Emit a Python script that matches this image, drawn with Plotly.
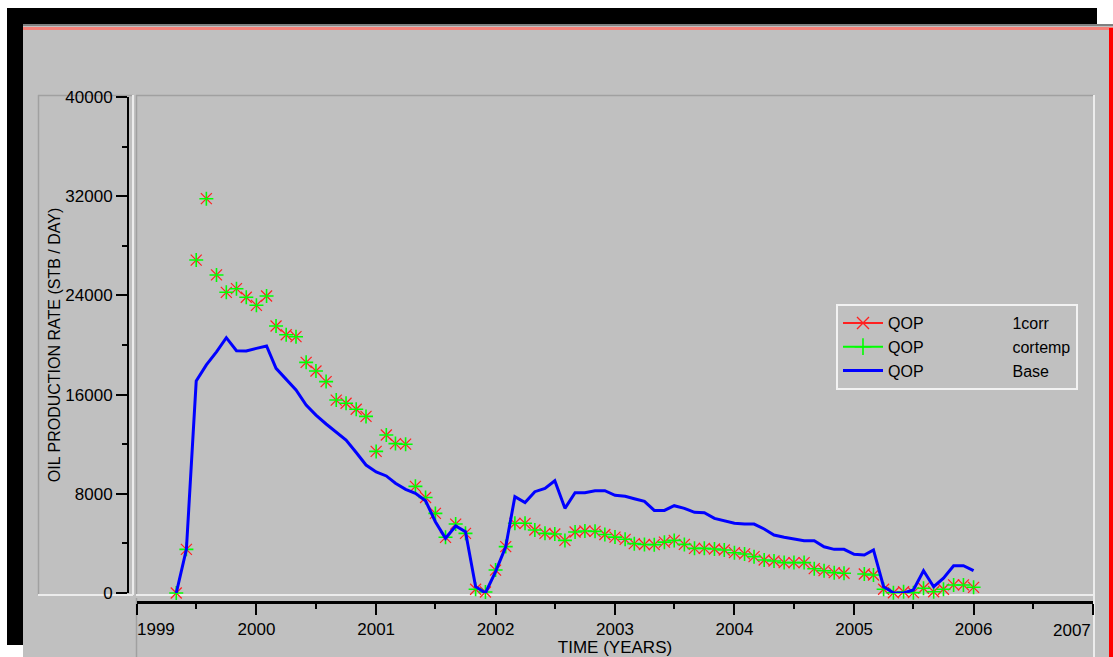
import plotly.graph_objects as go

# ---------------- data ----------------
months = [
    "1999-05-01", "1999-06-01", "1999-07-01", "1999-08-01", "1999-09-01", "1999-10-01", "1999-11-01", "1999-12-01",
    "2000-01-01", "2000-02-01", "2000-03-01", "2000-04-01", "2000-05-01", "2000-06-01",
    "2000-07-01", "2000-08-01", "2000-09-01", "2000-10-01", "2000-11-01", "2000-12-01",
    "2001-01-01", "2001-02-01", "2001-03-01", "2001-04-01", "2001-05-01", "2001-06-01",
    "2001-07-01", "2001-08-01", "2001-09-01", "2001-10-01", "2001-11-01", "2001-12-01",
    "2002-01-01", "2002-02-01", "2002-03-01", "2002-04-01", "2002-05-01", "2002-06-01",
    "2002-07-01", "2002-08-01", "2002-09-01", "2002-10-01", "2002-11-01", "2002-12-01",
    "2003-01-01", "2003-02-01", "2003-03-01", "2003-04-01", "2003-05-01", "2003-06-01",
    "2003-07-01", "2003-08-01", "2003-09-01", "2003-10-01", "2003-11-01", "2003-12-01",
    "2004-01-01", "2004-02-01", "2004-03-01", "2004-04-01", "2004-05-01", "2004-06-01",
    "2004-07-01", "2004-08-01", "2004-09-01", "2004-10-01", "2004-11-01", "2004-12-01",
    "2005-01-01", "2005-02-01", "2005-03-01", "2005-04-01", "2005-05-01", "2005-06-01",
    "2005-07-01", "2005-08-01", "2005-09-01", "2005-10-01", "2005-11-01", "2005-12-01",
    "2006-01-01",
]

qop_1corr = [
    0, 3520, 26850, 31800, 25650, 24250, 24540, 23850,
    23200, 23950, 21530, 20830, 20670, 18600,
    17900, 17050, 15560, 15300, 14820, 14240,
    11420, 12740, 12050, 12000, 8600, 7700,
    6420, 4490, 5560, 4810, 300, 80,
    1850, 3740, 5620, 5620, 5080, 4810,
    4760, 4240, 4920, 5000, 4970, 4720,
    4510, 4330, 3980, 3910, 3900, 4100,
    4240, 3920, 3600, 3600, 3550, 3470,
    3250, 3150, 2930, 2660, 2580, 2450,
    2450, 2450, 1960, 1800, 1640, 1590,
    None, 1530, 1450, 300, 20, 100,
    30, 380, 100, 300, 650, 650,
    460,
]

qop_cortemp = [
    0, 3520, 26850, 31800, 25650, 24250, 24540, 23850,
    23200, 23950, 21530, 20830, 20670, 18600,
    17900, 17050, 15560, 15300, 14820, 14240,
    11420, 12740, 12050, 12000, 8600, 7700,
    6420, 4490, 5560, 4810, 300, 80,
    1850, 3740, 5620, 5620, 5080, 4810,
    4760, 4240, 4920, 5000, 4970, 4720,
    4510, 4330, 3980, 3910, 3900, 4100,
    4240, 3920, 3600, 3600, 3550, 3470,
    3250, 3150, 2930, 2660, 2580, 2450,
    2450, 2450, 1960, 1800, 1640, 1590,
    None, 1530, 1450, 300, 20, 100,
    30, 380, 100, 300, 650, 650,
    460,
]

qop_base = [
    0, 3520, 17100, 18400, 19450, 20590, 19540, 19520,
    19730, 19920, 18120, 17250, 16370, 15160,
    14350, 13630, 12940, 12340, 11330, 10320,
    9760, 9440, 8850, 8360, 8040, 7440,
    5750, 4410, 5400, 4940, 510, 0,
    1720, 3730, 7770, 7300, 8170, 8440,
    9050, 6830, 8090, 8090, 8240, 8250,
    7880, 7800, 7600, 7390, 6660, 6660,
    7040, 6830, 6510, 6480, 6020, 5810,
    5620, 5560, 5560, 5160, 4680, 4490,
    4350, 4220, 4220, 3730, 3520, 3520,
    3120, 3060, 3470, 510, 20, 0,
    240, 1800, 510, 1190, 2200, 2200,
    1800,
]

series_names = ["1corr", "cortemp", "Base"]
var_name = "QOP"
y_ticks = [0, 8000, 16000, 24000, 32000, 40000]
x_tick_dates = ["1999-01-01", "2000-01-01", "2001-01-01", "2002-01-01", "2003-01-01",
                "2004-01-01", "2005-01-01", "2006-01-01", "2007-01-01"]
x_tick_labels = ["1999", "2000", "2001", "2002", "2003", "2004", "2005", "2006", "2007"]
x_range = ["1999-01-01", "2007-01-01"]
y_title = "OIL PRODUCTION RATE (STB / DAY)"
x_title = "TIME (YEARS)"

# ---------------- layout helpers ----------------
W, H = 1113, 657
FONT = "Liberation Sans, Arial, sans-serif"
NB = "\u00a0"


def px(x):
    return x / W


def py(y):
    return 1 - y / H


def label(name):
    return var_name + NB * 20 + name


# first label sits right of its tick, last label left of its tick (as in the original)
x_ticktext = list(x_tick_labels)
x_ticktext[0] = NB * 8 + x_ticktext[0]
x_ticktext[-1] = ""

RED = "#ff2020"
GREEN = "#00ff00"
BLUE = "#0000ff"

fig = go.Figure()

# data traces (markers only for the two correction runs)
fig.add_trace(go.Scatter(
    x=months, y=qop_1corr, mode="markers", showlegend=False, cliponaxis=False,
    marker=dict(symbol="x-thin", size=11, color=RED, line=dict(color=RED, width=1.2)),
    hoverinfo="x+y", name=series_names[0]))
fig.add_trace(go.Scatter(
    x=months, y=qop_cortemp, mode="markers", showlegend=False, cliponaxis=False,
    marker=dict(symbol="cross-thin", size=10, color=GREEN, line=dict(color=GREEN, width=1.6)),
    hoverinfo="x+y", name=series_names[1]))
fig.add_trace(go.Scatter(
    x=months, y=qop_base, mode="lines", cliponaxis=False,
    line=dict(color=BLUE, width=3), name=label(series_names[2]), legendrank=3))

# legend entries (line + marker samples)
fig.add_trace(go.Scatter(
    x=[None], y=[None], mode="lines+markers", name=label(series_names[0]), legendrank=1,
    line=dict(color=RED, width=2),
    marker=dict(symbol="x-thin", size=12, color=RED, line=dict(color=RED, width=1.4))))
fig.add_trace(go.Scatter(
    x=[None], y=[None], mode="lines+markers", name=label(series_names[1]), legendrank=2,
    line=dict(color=GREEN, width=2),
    marker=dict(symbol="cross-thin", size=12, color=GREEN, line=dict(color=GREEN, width=1.6))))

shapes = []


def rect(x0, y0, x1, y1, fill, line_color=None, lw=0):
    shapes.append(dict(type="rect", xref="paper", yref="paper", layer="below",
                       x0=px(x0), x1=px(x1), y0=py(y0), y1=py(y1),
                       fillcolor=fill, line=dict(width=lw, color=line_color or fill)))


def hline(x0, x1, y, color, w=1):
    shapes.append(dict(type="line", xref="paper", yref="paper", layer="below",
                       x0=px(x0), x1=px(x1), y0=py(y), y1=py(y), line=dict(color=color, width=w)))


def vline(x, y0, y1, color, w=1):
    shapes.append(dict(type="line", xref="paper", yref="paper", layer="below",
                       x0=px(x), x1=px(x), y0=py(y0), y1=py(y1), line=dict(color=color, width=w)))


# window frame
rect(7, 8, 1097, 24, "black")
rect(7, 8, 23, 645, "black")
rect(23, 24, 1113, 657, "#c0c0c0")
hline(23, 1113, 25, "#808080", 2)
rect(23, 27, 1113, 30, "#f48078")
rect(1109, 28, 1113, 657, "#ff0000")

# y-axis panel
hline(38, 133, 95.5, "#a0a0a0", 1.5)
vline(38.5, 95, 595, "#a0a0a0", 1.5)
hline(38, 133, 595, "#ececec", 2)
vline(133, 95, 595, "#ececec", 2)
# data panel
hline(136, 1094, 95.5, "#a0a0a0", 1.5)
vline(136.5, 95, 595, "#a0a0a0", 1.5)
hline(136, 1094, 595, "#ececec", 2)
vline(1094, 95, 657, "#ececec", 2)
# lower vertical separator
vline(136.5, 598, 657, "#a0a0a0", 1.5)

# last year label, right-aligned to its tick
annotations = [dict(
    text=x_tick_labels[-1], x=x_tick_dates[-1], xref="x", y=py(630), yref="paper",
    xanchor="right", yanchor="middle", showarrow=False,
    font=dict(size=17, family=FONT, color="black"))]

fig.update_layout(
    width=W, height=H, autosize=False,
    margin=dict(l=0, r=0, t=0, b=0, autoexpand=False),
    paper_bgcolor="white", plot_bgcolor="rgba(0,0,0,0)",
    font=dict(family=FONT, color="black", size=17),
    shapes=shapes,
    annotations=annotations,
    showlegend=True,
    legend=dict(x=px(836), y=py(304), xanchor="left", yanchor="top",
                bgcolor="#c0c0c0", bordercolor="#f2f2f2", borderwidth=2,
                font=dict(family=FONT, size=16, color="black"),
                itemwidth=40,
                tracegroupgap=0, itemclick=False, itemdoubleclick=False),
    xaxis=dict(
        type="date", range=x_range, domain=[px(137), px(1093)],
        anchor="free", position=py(602),
        showgrid=False, zeroline=False,
        showline=True, linecolor="black", linewidth=3,
        ticks="outside", ticklen=11, tickwidth=2, tickcolor="black",
        tickvals=x_tick_dates, ticktext=x_ticktext, ticklabeloverflow="allow",
        minor=dict(dtick="M6", ticks="outside", ticklen=5, tickwidth=1.5, tickcolor="black"),
        tickfont=dict(size=17, family=FONT, color="black"),
        title=dict(text=x_title, font=dict(size=17, family=FONT, color="black"), standoff=3),
    ),
    yaxis=dict(
        range=[0, 40000], domain=[py(593), py(97)],
        anchor="free", position=px(128),
        showgrid=False, zeroline=False,
        showline=True, linecolor="black", linewidth=2,
        ticks="outside", ticklen=11, tickwidth=2, tickcolor="black",
        tickvals=y_ticks, ticktext=[str(v) for v in y_ticks],
        minor=dict(dtick=4000, ticks="outside", ticklen=5, tickwidth=1.5, tickcolor="black"),
        tickfont=dict(size=17, family=FONT, color="black"),
        title=dict(text=y_title, font=dict(size=16, family=FONT, color="black"), standoff=0),
    ),
)

fig.write_html(
    "out.html",
    config={"displayModeBar": False},
    post_script="document.body.style.margin='0';document.body.style.overflow='hidden';",
)
